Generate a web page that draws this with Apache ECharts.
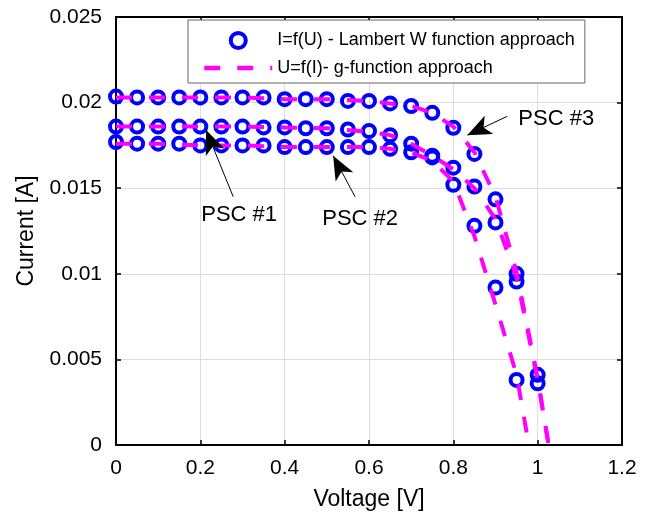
<!DOCTYPE html>
<html>
<head>
<meta charset="utf-8">
<script src="https://cdn.jsdelivr.net/npm/echarts@6/dist/echarts.min.js"></script>
<style>
  html, body { margin: 0; padding: 0; background: #fff; }
  #chart { width: 649px; height: 516px; }
</style>
</head>
<body>
<div id="chart"></div>
<script>
// voltage steps of the Lambert W markers
const voltage = [0, 0.05, 0.1, 0.15, 0.2, 0.25, 0.3, 0.35, 0.4, 0.45, 0.5,
  0.55, 0.6, 0.65, 0.7, 0.75, 0.8, 0.85, 0.9, 0.95, 1.0]

// I=f(U) markers, one array per shading case
const psc1Current = [0.0186, 0.0186, 0.0186, 0.0186, 0.0186, 0.0186, 0.0186, 0.01855, 0.01855, 0.0185, 0.0185,
  0.01843, 0.01834, 0.0181, 0.0176, 0.0169, 0.0162, 0.0151, 0.0130, 0.00955, 0.0036]
const psc2Current = [0.0177, 0.0176, 0.0176, 0.0176, 0.0175, 0.0175, 0.0175, 0.0175, 0.0174, 0.0174, 0.0174,
  0.0174, 0.0174, 0.0173, 0.0171, 0.0168, 0.0152, 0.0128, 0.0092, 0.0038, null]
const psc3Current = [0.02035, 0.0203, 0.0203, 0.0203, 0.0203, 0.0203, 0.0203, 0.0203, 0.0202, 0.0202, 0.0202,
  0.0201, 0.0201, 0.01995, 0.0198, 0.0194, 0.01853, 0.0170, 0.01435, 0.0100, 0.0041]

// U=f(I) g-function curves (dashed)
const g1Voltage = [0, 0.1, 0.2, 0.3, 0.4, 0.5, 0.6, 0.65, 0.7, 0.75, 0.8, 0.85, 0.9, 0.95, 1.0, 1.026]
const g1Current = [0.0186, 0.0186, 0.0186, 0.0186, 0.01855, 0.0185, 0.0183, 0.0181, 0.0176, 0.0169, 0.0161, 0.0150, 0.0132, 0.0098, 0.0038, 0]
const g2Voltage = [0, 0.1, 0.2, 0.3, 0.4, 0.5, 0.6, 0.65, 0.7, 0.75, 0.8, 0.85, 0.9, 0.95, 0.979]
const g2Current = [0.0176, 0.0176, 0.0175, 0.0175, 0.0174, 0.0174, 0.0174, 0.0173, 0.0171, 0.0166, 0.0154, 0.0122, 0.0082, 0.0041, 0]
const g3Voltage = [0, 0.1, 0.2, 0.3, 0.4, 0.5, 0.6, 0.65, 0.7, 0.75, 0.8, 0.85, 0.9, 0.95, 1.0, 1.026]
const g3Current = [0.0203, 0.0203, 0.0203, 0.0203, 0.0202, 0.0202, 0.0201, 0.01995, 0.0198, 0.0194, 0.0186, 0.0171, 0.0145, 0.0101, 0.0039, 0]

// annotations (data units)
const annotationText = ['PSC #1', 'PSC #2', 'PSC #3']
const annotationAt = [[0.292, 0.01345], [0.579, 0.01322], [1.044, 0.01902]]
const arrowTail = [[0.278, 0.0145], [0.567, 0.0145], [0.928, 0.0192]]
const arrowTip = [[0.2136, 0.0184], [0.515, 0.0169], [0.833, 0.0181]]

const lambertName = 'I=f(U) - Lambert W function approach'
const gName = 'U=f(I)- g-function approach'
const font = "'Liberation Sans', Arial, sans-serif"

const pairs = (xs, ys) => xs.map((x, i) => [x, ys[i]]).filter(p => p[1] !== null)

const chart = echarts.init(document.getElementById('chart'))

const markerSeries = [psc1Current, psc2Current, psc3Current].map(cur => ({
  type: 'scatter',
  name: lambertName,
  data: pairs(voltage, cur),
  symbol: 'circle',
  symbolSize: 12,
  itemStyle: { color: 'rgba(255,255,255,0)', borderColor: '#0000ff', borderWidth: 4, opacity: 1 },
  emphasis: { disabled: true },
  z: 2
}))

const curveSeries = [[g1Voltage, g1Current], [g2Voltage, g2Current], [g3Voltage, g3Current]].map(g => ({
  type: 'line',
  name: gName,
  data: pairs(g[0], g[1]),
  symbol: 'none',
  showSymbol: false,
  lineStyle: { color: '#ff00ff', width: 4, type: [16, 17] },
  itemStyle: { color: '#ff00ff' },
  emphasis: { disabled: true },
  z: 3
}))

const annotationSeries = {
  type: 'scatter',
  name: 'annotations',
  data: [],
  silent: true,
  markLine: {
    silent: true,
    symbol: ['none', 'arrow'],
    symbolSize: [15, 24],
    label: { show: false },
    lineStyle: { color: '#000', width: 1, type: 'solid' },
    data: arrowTail.map((t, i) => [{ coord: t }, { coord: arrowTip[i] }])
  },
  markPoint: {
    silent: true,
    symbol: 'circle',
    symbolSize: 0,
    label: { show: true, position: 'inside', color: '#000', fontSize: 22, fontFamily: font, formatter: p => p.name },
    data: annotationText.map((t, i) => ({ name: t, coord: annotationAt[i] }))
  },
  z: 5
}

const option = {
  animation: false,
  backgroundColor: '#fff',
  grid: { left: 116, right: 27, top: 17, bottom: 69 },
  legend: {
    data: [
      { name: lambertName, itemStyle: { borderWidth: 4 } },
      { name: gName, itemStyle: { opacity: 0 }, lineStyle: { width: 4.5, type: [16, 17] } }
    ],
    orient: 'vertical',
    left: 188,
    top: 20,
    padding: [11, 10, 6, 14],
    itemGap: 9,
    itemWidth: 68,
    itemHeight: 15,
    backgroundColor: '#fff',
    borderColor: '#666',
    borderWidth: 1,
    borderRadius: 0,
    textStyle: { fontSize: 18, color: '#000', fontFamily: font }
  },
  xAxis: [
    {
      type: 'value', min: 0, max: 1.2, interval: 0.2,
      name: 'Voltage [V]', nameLocation: 'middle', nameGap: 43,
      nameTextStyle: { fontSize: 23, color: '#000', fontFamily: font },
      axisLine: { show: true, onZero: false, lineStyle: { color: '#000', width: 2 } },
      axisTick: { show: true, inside: true, length: 5, lineStyle: { color: '#000', width: 1.5 } },
      axisLabel: { fontSize: 21, color: '#000', fontFamily: font, margin: 13 },
      splitLine: { show: true, lineStyle: { color: '#dedede', width: 1 } }
    },
    {
      type: 'value', position: 'top', min: 0, max: 1.2, interval: 0.2,
      axisLine: { show: true, onZero: false, lineStyle: { color: '#000', width: 2 } },
      axisTick: { show: true, inside: true, length: 5, lineStyle: { color: '#000', width: 1.5 } },
      axisLabel: { show: false },
      splitLine: { show: false }
    }
  ],
  yAxis: [
    {
      type: 'value', min: 0, max: 0.025, interval: 0.005,
      name: 'Current [A]', nameLocation: 'middle', nameGap: 78,
      nameTextStyle: { fontSize: 23, color: '#000', fontFamily: font },
      axisLine: { show: true, onZero: false, lineStyle: { color: '#000', width: 2 } },
      axisTick: { show: true, inside: true, length: 5, lineStyle: { color: '#000', width: 1.5 } },
      axisLabel: { fontSize: 21, color: '#000', fontFamily: font, margin: 14 },
      splitLine: { show: true, lineStyle: { color: '#dedede', width: 1 } }
    },
    {
      type: 'value', position: 'right', min: 0, max: 0.025, interval: 0.005,
      axisLine: { show: true, onZero: false, lineStyle: { color: '#000', width: 2 } },
      axisTick: { show: true, inside: true, length: 5, lineStyle: { color: '#000', width: 1.5 } },
      axisLabel: { show: false },
      splitLine: { show: false }
    }
  ],
  series: [...markerSeries, ...curveSeries, annotationSeries]
}

chart.setOption(option)
</script>
</body>
</html>
